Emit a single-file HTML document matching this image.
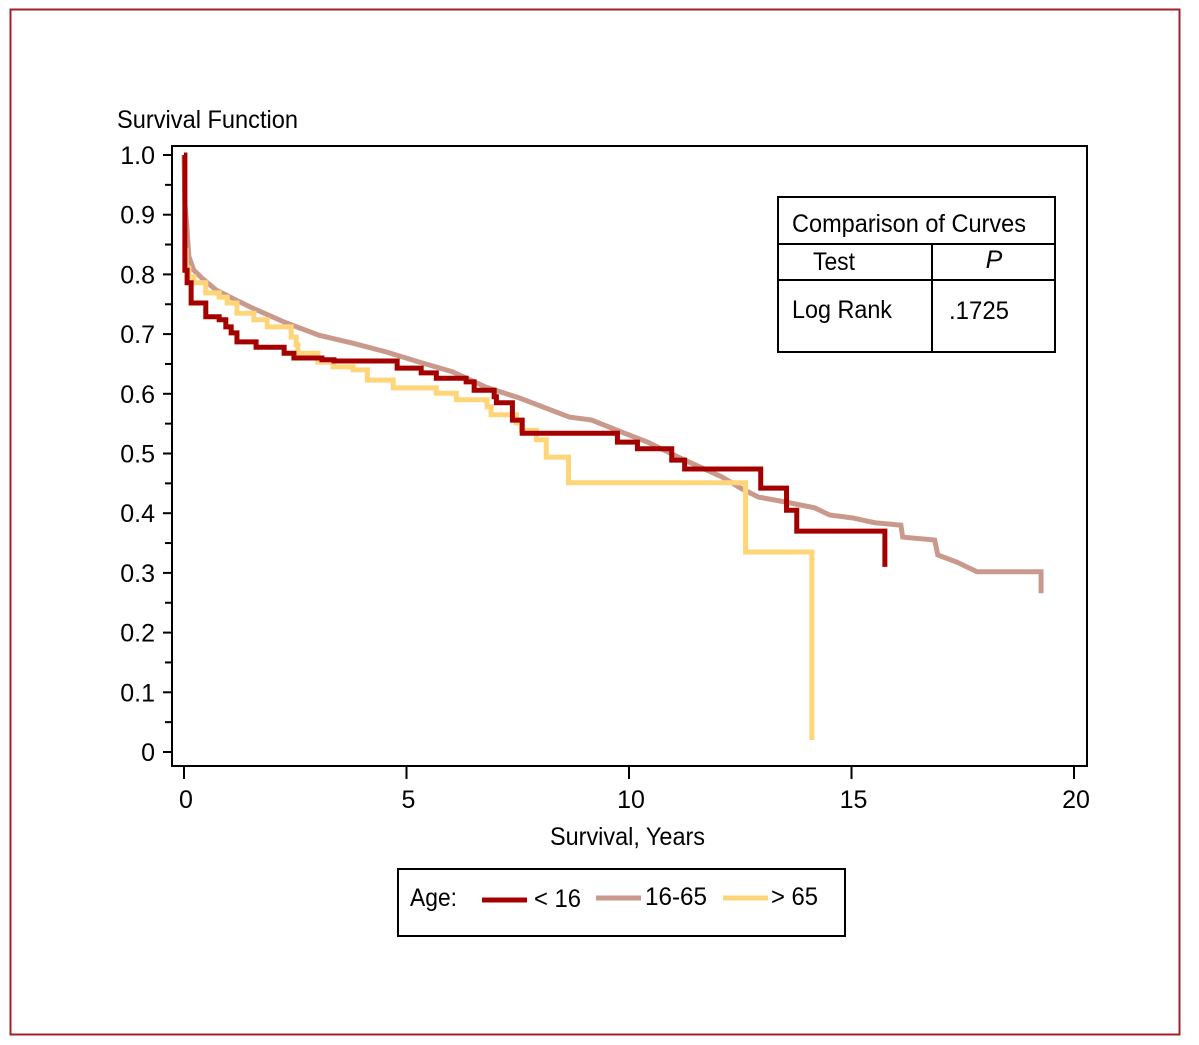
<!DOCTYPE html>
<html><head><meta charset="utf-8"><style>
html,body{margin:0;padding:0;background:#fff;}
svg text{font-family:"Liberation Sans Narrow","Liberation Sans",sans-serif;fill:#000;}
</style></head><body>
<svg id="chart" width="1199" height="1040" viewBox="0 0 1199 1040" xmlns="http://www.w3.org/2000/svg">
<rect x="10.5" y="9.5" width="1169" height="1025" fill="#fff" stroke="#a0202a" stroke-width="2"/>
<text x="117" y="128" font-size="25" textLength="181" lengthAdjust="spacingAndGlyphs">Survival Function</text>
<rect x="172" y="146" width="915" height="620" fill="none" stroke="#000" stroke-width="2"/>
<g id="yaxis"></g>
<g id="xaxis"></g>
<text x="550" y="845" font-size="25" textLength="155" lengthAdjust="spacingAndGlyphs">Survival, Years</text>
<g id="series"></g>
<g>
<rect x="778" y="197" width="277" height="155" fill="#fff" stroke="#000" stroke-width="2"/>
<line x1="778" y1="244" x2="1055" y2="244" stroke="#000" stroke-width="2"/>
<line x1="778" y1="280" x2="1055" y2="280" stroke="#000" stroke-width="2"/>
<line x1="932" y1="244" x2="932" y2="352" stroke="#000" stroke-width="2"/>
<text x="792" y="232" font-size="25" textLength="234" lengthAdjust="spacingAndGlyphs">Comparison of Curves</text>
<text x="813" y="270" font-size="25" textLength="42" lengthAdjust="spacingAndGlyphs">Test</text>
<text x="994" y="268" font-size="25" font-style="italic" text-anchor="middle">P</text>
<text x="792" y="318" font-size="25" textLength="100" lengthAdjust="spacingAndGlyphs">Log Rank</text>
<text x="949" y="319" font-size="25" textLength="60" lengthAdjust="spacingAndGlyphs">.1725</text>
</g>
<g>
<rect x="398" y="869" width="447" height="67" fill="#fff" stroke="#000" stroke-width="2"/>
<text x="410" y="906" font-size="25" textLength="47" lengthAdjust="spacingAndGlyphs">Age:</text>
<line x1="482" y1="900" x2="527" y2="900" stroke="#a50000" stroke-width="5"/>
<text x="534" y="907" font-size="25" textLength="47" lengthAdjust="spacingAndGlyphs">&lt; 16</text>
<line x1="596" y1="898" x2="641" y2="898" stroke="#c99a8c" stroke-width="5"/>
<text x="645" y="905" font-size="25" textLength="62" lengthAdjust="spacingAndGlyphs">16-65</text>
<line x1="723" y1="898" x2="768" y2="898" stroke="#ffd57a" stroke-width="5"/>
<text x="771" y="905" font-size="25" textLength="47" lengthAdjust="spacingAndGlyphs">&gt; 65</text>
</g>
</svg>
<script>
const yTicks=[0,0.1,0.2,0.3,0.4,0.5,0.6,0.7,0.8,0.9,1.0];
const yTickLabels=["0","0.1","0.2","0.3","0.4","0.5","0.6","0.7","0.8","0.9","1.0"];
const xTicks=[0,5,10,15,20];
const xTickLabels=["0","5","10","15","20"];
const timesLt16=[0,0.02,0.07,0.16,0.49,0.79,0.94,1.06,1.19,1.62,2.25,2.47,3.10,3.37,4.79,5.33,5.67,6.34,6.52,6.97,7.02,7.38,7.60,9.74,10.19,10.96,11.25,12.96,13.54,13.77,15.75];
const survLt16=[1.0,0.807,0.786,0.752,0.729,0.724,0.712,0.702,0.687,0.678,0.668,0.660,0.657,0.655,0.643,0.635,0.626,0.620,0.606,0.595,0.585,0.556,0.534,0.519,0.508,0.489,0.474,0.442,0.405,0.370,0.31];
const timesMid=[0,0.02,0.07,0.11,0.22,0.40,0.72,1.17,1.53,2.29,3.04,3.78,4.55,5.29,6.03,6.79,7.54,8.66,9.16,9.83,10.42,11.25,12.08,12.51,12.91,13.50,14.17,14.51,15.03,15.52,16.11,16.15,16.87,16.94,17.37,17.82,19.26,19.26];
const survMid=[1.0,0.92,0.874,0.83,0.807,0.794,0.774,0.757,0.744,0.719,0.698,0.685,0.670,0.653,0.637,0.611,0.593,0.561,0.556,0.536,0.519,0.489,0.461,0.442,0.427,0.419,0.409,0.397,0.392,0.384,0.380,0.360,0.355,0.330,0.318,0.302,0.302,0.266];
const timesGt65=[0,0.02,0.05,0.11,0.22,0.49,0.79,0.97,1.19,1.57,1.87,2.41,2.52,2.56,3.01,3.35,3.80,4.12,4.70,5.67,6.12,6.81,6.90,7.47,7.58,7.92,8.14,8.64,12.62,14.11];
const survGt65=[1.0,0.84,0.81,0.796,0.786,0.769,0.762,0.752,0.735,0.724,0.712,0.695,0.682,0.668,0.653,0.645,0.640,0.623,0.610,0.601,0.590,0.578,0.565,0.551,0.539,0.523,0.494,0.451,0.335,0.02];

const NS="http://www.w3.org/2000/svg";
const xs=t=>184+t*44.5;
const ys=s=>752-s*597;
const yax=document.getElementById('yaxis');
for(let v=0;v<=20;v++){
  const val=v*0.05;
  const ln=document.createElementNS(NS,'line');
  
  
  ln.setAttribute('x1',v%2===0?163:165);ln.setAttribute('x2',172);
  ln.setAttribute('y1',ys(val));ln.setAttribute('y2',ys(val));
  ln.setAttribute('stroke','#000');ln.setAttribute('stroke-width','2');
  yax.appendChild(ln);
}
yTicks.forEach((v,i)=>{
  const tx=document.createElementNS(NS,'text');
  
  
  tx.setAttribute('x',155);tx.setAttribute('y',ys(v)+9);
  tx.setAttribute('text-anchor','end');tx.setAttribute('font-size','25');
  tx.textContent=yTickLabels[i];yax.appendChild(tx);
});
const xax=document.getElementById('xaxis');
xTicks.forEach((v,i)=>{
  const ln=document.createElementNS(NS,'line');
  
  
  ln.setAttribute('x1',xs(v));ln.setAttribute('x2',xs(v));
  ln.setAttribute('y1',767);ln.setAttribute('y2',779);
  ln.setAttribute('stroke','#000');ln.setAttribute('stroke-width','2');
  xax.appendChild(ln);
  const tx=document.createElementNS(NS,'text');
  
  
  tx.setAttribute('x',xs(v)+2);tx.setAttribute('y',808);
  tx.setAttribute('text-anchor','middle');tx.setAttribute('font-size','25');
  tx.textContent=xTickLabels[i];xax.appendChild(tx);
});
function stepPath(ts,ss){
  let d='M'+xs(ts[0])+','+ys(ss[0]);
  for(let i=1;i<ts.length;i++){d+=' H'+xs(ts[i])+' V'+ys(ss[i]);}
  return d;
}
function linePath(ts,ss){
  let d='M'+xs(ts[0])+','+ys(ss[0]);
  for(let i=1;i<ts.length;i++){d+=' L'+xs(ts[i])+','+ys(ss[i]);}
  return d;
}
const ser=document.getElementById('series');
function addSeries(d,color,name){
  const p=document.createElementNS(NS,'path');
  
  
  p.setAttribute('d',d);
  p.setAttribute('fill','none');p.setAttribute('stroke',color);p.setAttribute('stroke-width','5');
  ser.appendChild(p);
}
addSeries(linePath(timesMid,survMid),'#c99a8c','curve-16-65');
addSeries(stepPath(timesGt65,survGt65),'#ffd57a','curve-gt65');
addSeries(stepPath(timesLt16,survLt16),'#a50000','curve-lt16');
</script>
</body></html>
